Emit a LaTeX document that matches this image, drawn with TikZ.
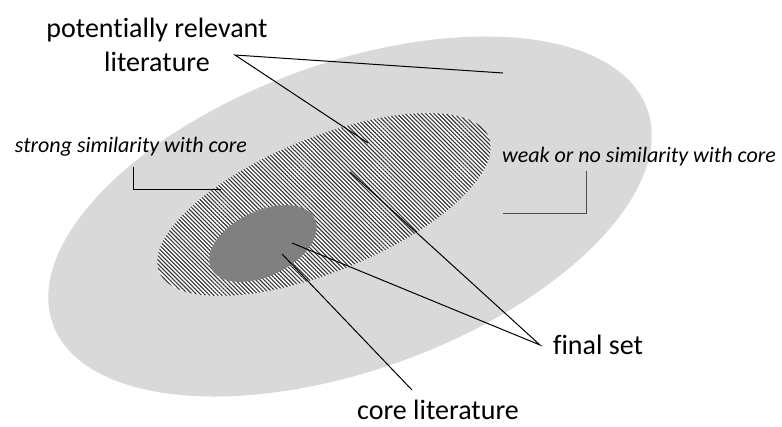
\documentclass[tikz,border=0pt]{standalone}
\usepackage{fontspec}
\setmainfont{Carlito}[Ligatures={NoCommon,NoContextual}]
\usetikzlibrary{patterns.meta}

\begin{document}
\begin{tikzpicture}[x=1pt,y=-1pt,
  every node/.style={font=\fontsize{28}{34}\selectfont,align=center,inner sep=0pt},
  remark/.style={font=\fontsize{22}{26}\selectfont\itshape},
  pointer/.style={line width=1pt,black},
  bracket/.style={line width=1pt}]
  \useasboundingbox (0,0) rectangle (782,426);

  % regions
  \fill[black!15] (350,216.5) circle [x radius=316pt,y radius=153.5pt,rotate=19.9];
  \fill[white] (324,204.5) circle [x radius=178pt,y radius=67pt,rotate=22.2];
  \fill[pattern={Lines[angle=-45,distance=2.9pt,line width=1.1pt]},pattern color=black!80]
    (324,204.5) circle [x radius=178pt,y radius=67pt,rotate=22.2];
  \fill[black!50] (263,243.5) circle [x radius=57.5pt,y radius=32.5pt,rotate=25.4];

  % labels
  \node (relevant) at (157,45) {potentially relevant\\literature};
  \node[anchor=base] (final) at (598,354) {final set};
  \node[anchor=base] (core) at (438,419.5) {core literature};
  \node[remark,anchor=base] (strong) at (131,152) {strong similarity with core};
  \node[remark,anchor=base] (weak) at (639,162) {weak or no similarity with core};

  % pointer ends
  \coordinate (relTip) at (235,55);
  \coordinate (relOuter) at (503,73);
  \coordinate (relHatch) at (368,143);
  \coordinate (finTip) at (540,345);
  \coordinate (finHatch) at (350,172);
  \coordinate (finCore) at (292,243);
  \coordinate (coreIn) at (282,254);
  \coordinate (coreTip) at (412,390);
  \coordinate (strongTop) at (133,167);
  \coordinate (strongEnd) at (221,189);
  \coordinate (weakTop) at (586,171);
  \coordinate (weakEnd) at (503,213);

  \draw[pointer] (relOuter) -- (relTip) -- (relHatch);
  \draw[pointer] (finHatch) -- (finTip) -- (finCore);
  \draw[pointer] (coreIn) -- (coreTip);
  \draw[bracket] (strongTop) |- (strongEnd);
  \draw[bracket,black!70] (weakTop) |- (weakEnd);
\end{tikzpicture}
\end{document}
